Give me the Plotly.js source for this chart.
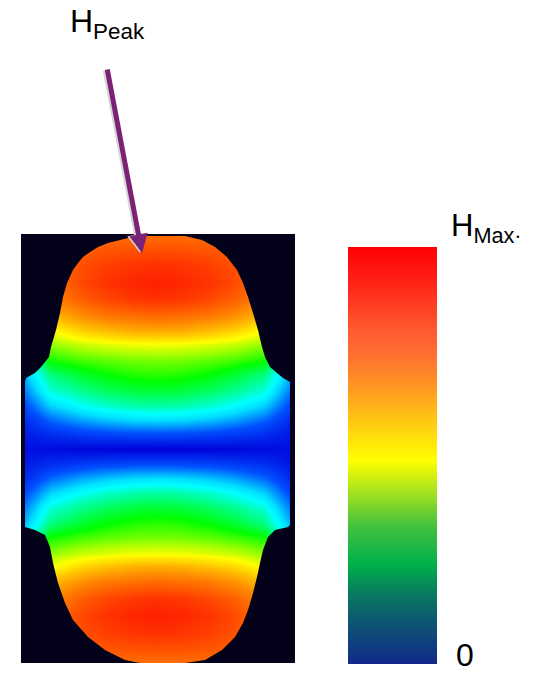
<!DOCTYPE html>
<html>
<head>
<meta charset="utf-8">
<script src="https://cdn.plot.ly/plotly-3.0.1.min.js"></script>
<style>
  html, body { margin: 0; padding: 0; background: #ffffff; }
  #chart { width: 535px; height: 673px; }
</style>
</head>
<body>
<div id="chart"></div>
<script>
// Field map of H over the cross-section: u = horizontal offset from the axis,
// v = vertical offset from the mid-plane (both in the same length units).
const fieldU = [-136, -107, -77, -52, -23, 0, 23, 52, 77, 107, 136];
const fieldV = [-215, -199, -183, -166, -149, -134, -119, -104, -89, -74, -59, -44, -29, -14, 0,
                14, 29, 44, 59, 74, 89, 104, 119, 134, 149, 166, 183, 199, 215];

// Normalised H (0 = minimum, 1 = H_Max), one row per fieldV entry (bottom to top)
const fieldH = [
  [0.85, 0.85, 0.85, 0.85, 0.85, 0.85, 0.85, 0.85, 0.85, 0.85, 0.85],
  [0.85, 0.85, 0.88, 0.90, 0.91, 0.91, 0.91, 0.90, 0.88, 0.85, 0.85],
  [0.84, 0.85, 0.91, 0.94, 0.96, 0.97, 0.96, 0.94, 0.91, 0.85, 0.84],
  [0.80, 0.84, 0.92, 0.96, 0.99, 1.00, 0.99, 0.96, 0.92, 0.84, 0.80],
  [0.70, 0.80, 0.88, 0.92, 0.95, 0.96, 0.95, 0.92, 0.88, 0.80, 0.70],
  [0.60, 0.73, 0.80, 0.84, 0.86, 0.87, 0.86, 0.84, 0.80, 0.73, 0.60],
  [0.50, 0.64, 0.70, 0.73, 0.755, 0.76, 0.755, 0.73, 0.70, 0.64, 0.50],
  [0.40, 0.57, 0.60, 0.616, 0.627, 0.63, 0.627, 0.616, 0.60, 0.57, 0.40],
  [0.30, 0.51, 0.534, 0.548, 0.558, 0.56, 0.558, 0.548, 0.534, 0.51, 0.30],
  [0.22, 0.42, 0.468, 0.496, 0.515, 0.52, 0.515, 0.496, 0.468, 0.42, 0.22],
  [0.17, 0.36, 0.413, 0.444, 0.465, 0.47, 0.465, 0.444, 0.413, 0.36, 0.17],
  [0.12, 0.27, 0.333, 0.369, 0.394, 0.40, 0.394, 0.369, 0.333, 0.27, 0.12],
  [0.07, 0.17, 0.223, 0.254, 0.275, 0.28, 0.275, 0.254, 0.223, 0.17, 0.07],
  [0.04, 0.08, 0.104, 0.118, 0.128, 0.13, 0.128, 0.118, 0.104, 0.08, 0.04],
  [0.03, 0.02, 0.01, 0.005, 0.001, 0.00, 0.001, 0.005, 0.01, 0.02, 0.03],
  [0.04, 0.08, 0.104, 0.118, 0.128, 0.13, 0.128, 0.118, 0.104, 0.08, 0.04],
  [0.07, 0.17, 0.223, 0.254, 0.275, 0.28, 0.275, 0.254, 0.223, 0.17, 0.07],
  [0.12, 0.27, 0.333, 0.369, 0.394, 0.40, 0.394, 0.369, 0.333, 0.27, 0.12],
  [0.17, 0.36, 0.413, 0.444, 0.465, 0.47, 0.465, 0.444, 0.413, 0.36, 0.17],
  [0.22, 0.42, 0.468, 0.496, 0.515, 0.52, 0.515, 0.496, 0.468, 0.42, 0.22],
  [0.30, 0.51, 0.534, 0.548, 0.558, 0.56, 0.558, 0.548, 0.534, 0.51, 0.30],
  [0.40, 0.57, 0.60, 0.616, 0.627, 0.63, 0.627, 0.616, 0.60, 0.57, 0.40],
  [0.50, 0.64, 0.70, 0.73, 0.755, 0.76, 0.755, 0.73, 0.70, 0.64, 0.50],
  [0.60, 0.73, 0.80, 0.84, 0.86, 0.87, 0.86, 0.84, 0.80, 0.73, 0.60],
  [0.70, 0.80, 0.88, 0.92, 0.95, 0.96, 0.95, 0.92, 0.88, 0.80, 0.70],
  [0.80, 0.84, 0.92, 0.96, 0.99, 1.00, 0.99, 0.96, 0.92, 0.84, 0.80],
  [0.84, 0.85, 0.91, 0.94, 0.96, 0.97, 0.96, 0.94, 0.91, 0.85, 0.84],
  [0.85, 0.85, 0.88, 0.90, 0.91, 0.91, 0.91, 0.90, 0.88, 0.85, 0.85],
  [0.85, 0.85, 0.85, 0.85, 0.85, 0.85, 0.85, 0.85, 0.85, 0.85, 0.85]
];

// Outline of the cross-section, traced from top to bottom on each side
const leftU  = [-24, -29, -49, -59, -67, -74, -79, -84, -90, -94, -97, -101, -106, -108, -116, -122, -131, -132,
                -132, -132, -122, -112, -107, -104, -99, -92, -84, -69, -52, -32, -17];
const leftV  = [213, 211, 206, 202, 197, 192, 186, 179, 166, 152, 136, 119, 102, 92, 82, 76, 71, 67,
                -76, -78, -81, -86, -98, -114, -134, -154, -171, -188, -201, -211, -214];
const rightU = [28, 45, 58, 70, 80, 86, 91, 96, 101, 105, 108, 113, 120, 126, 133,
                133, 131, 118, 111, 106, 103, 100, 96, 91, 86, 78, 65, 48, 28];
const rightV = [213, 209, 202, 192, 179, 166, 152, 136, 119, 102, 92, 82, 76, 71, 67,
                -76, -78, -81, -88, -101, -114, -128, -144, -161, -174, -188, -201, -211, -214];

// Extent of the plotted window
const windowU = [-136, 138];
const windowV = [-214, 215];

// Scale bar levels (0 at the bottom, H_Max at the top)
const scaleLevels = [0, 0.25, 0.5, 0.75, 1];
const scaleLabels = ['H<sub>Max·</sub>', '0'];
const peakLabel = 'H<sub>Peak</sub>';
// Position of the peak marker tip on the field map
const peakTip = { u: -15, v: 196 };

const fieldColors = [
  [0.00, '#0000dc'], [0.15, '#0050ff'], [0.28, '#00e0ff'], [0.33, '#00ffff'],
  [0.42, '#00ff80'], [0.50, '#00ff00'], [0.58, '#a0ff00'], [0.64, '#ffff00'],
  [0.72, '#ffc000'], [0.80, '#ff8c00'], [0.88, '#ff6000'], [0.95, '#ff3800'],
  [1.00, '#ff2000']
];
const scaleColors = [
  [0.00, '#12288a'], [0.11, '#0c5a70'], [0.17, '#087a60'], [0.24, '#00b04a'],
  [0.33, '#40c040'], [0.41, '#a0e020'], [0.49, '#ffff00'], [0.57, '#ffd010'],
  [0.66, '#ff9a20'], [0.74, '#ff7030'], [0.80, '#ff5a30'], [0.90, '#ff2a1a'],
  [1.00, '#ff0000']
];

const W = 535, H = 673;
const BG = '#03021a';

// Mask: window rectangle with the cross-section cut out (even-odd fill)
function maskPath() {
  let p = `M${windowU[0]},${windowV[0]} L${windowU[1]},${windowV[0]} L${windowU[1]},${windowV[1]} L${windowU[0]},${windowV[1]} Z `;
  p += `M${leftU[0]},${leftV[0]}`;
  for (let i = 1; i < leftU.length; i++) p += ` L${leftU[i]},${leftV[i]}`;
  for (let i = rightU.length - 1; i >= 0; i--) p += ` L${rightU[i]},${rightV[i]}`;
  return p + ' Z';
}

const field = {
  type: 'heatmap',
  x: fieldU, y: fieldV, z: fieldH,
  zmin: 0, zmax: 1, zsmooth: 'best',
  colorscale: fieldColors, showscale: false,
  xaxis: 'x', yaxis: 'y', hoverinfo: 'skip'
};

const scaleBar = {
  type: 'heatmap',
  x: [0, 1], y: scaleLevels,
  z: scaleLevels.map(l => [l, l]),
  zmin: 0, zmax: 1, zsmooth: 'best',
  colorscale: scaleColors, showscale: false,
  xaxis: 'x2', yaxis: 'y2', hoverinfo: 'skip'
};

const hidden = { showgrid: false, zeroline: false, showticklabels: false, ticks: '', showline: false, fixedrange: true };
const textFont = { family: 'Liberation Sans, Arial, sans-serif', size: 32, color: '#000000' };

const layout = {
  width: W, height: H,
  margin: { l: 0, r: 0, t: 0, b: 0 },
  paper_bgcolor: '#ffffff', plot_bgcolor: BG,
  showlegend: false,
  xaxis: Object.assign({ domain: [21 / W, 295 / W], range: windowU }, hidden),
  yaxis: Object.assign({ domain: [10 / H, 439 / H], range: windowV }, hidden),
  xaxis2: Object.assign({ domain: [348 / W, 437 / W], range: [0, 1], anchor: 'y2' }, hidden),
  yaxis2: Object.assign({ domain: [9 / H, 426 / H], range: [0, 1], anchor: 'x2' }, hidden),
  shapes: [{
    type: 'path', xref: 'x', yref: 'y', path: maskPath(),
    fillcolor: BG, fillrule: 'evenodd', line: { width: 0 }, layer: 'above'
  }],
  annotations: [
    // light edge under the pointer, then the pointer itself
    { xref: 'x', yref: 'y', x: peakTip.u - 2, y: peakTip.v, ax: -35, ay: -184, text: '',
      showarrow: true, arrowhead: 2, arrowsize: 0.75, arrowwidth: 5, arrowcolor: '#d4d4d4', standoff: 0 },
    { xref: 'x', yref: 'y', x: peakTip.u, y: peakTip.v, ax: -35, ay: -185, text: '',
      showarrow: true, arrowhead: 2, arrowsize: 0.75, arrowwidth: 5, arrowcolor: '#7b2277', standoff: 0 },
    { xref: 'paper', yref: 'paper', x: 68 / W, y: 1 - 1 / H, xanchor: 'left', yanchor: 'top',
      text: peakLabel, showarrow: false, font: textFont },
    { xref: 'paper', yref: 'paper', x: 449 / W, y: 1 - 206 / H, xanchor: 'left', yanchor: 'top',
      text: scaleLabels[0], showarrow: false, font: Object.assign({}, textFont, { size: 31 }) },
    { xref: 'paper', yref: 'paper', x: 454 / W, y: 1 - 635 / H, xanchor: 'left', yanchor: 'top',
      text: scaleLabels[1], showarrow: false, font: textFont }
  ]
};

Plotly.newPlot('chart', [field, scaleBar], layout, { staticPlot: true, displayModeBar: false });
</script>
</body>
</html>
